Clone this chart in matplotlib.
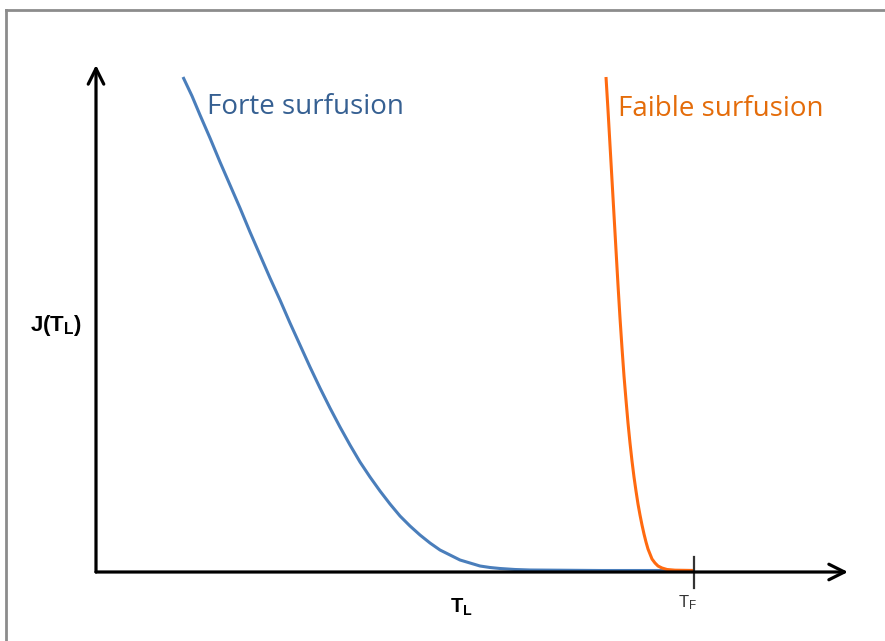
import matplotlib.pyplot as plt
from matplotlib.lines import Line2D

plt.rcParams["mathtext.fontset"] = "custom"
plt.rcParams["mathtext.rm"] = "Liberation Sans"
plt.rcParams["mathtext.bf"] = "Liberation Sans:bold"

# Curves (x = temperature, y = nucleation rate, arbitrary units)
forte_x = [87, 96, 104, 114, 124, 134, 144, 154, 164, 174, 184, 194, 204, 214, 224, 234,
           244, 254, 264, 274, 284, 294, 304, 314, 324, 334, 344, 354, 364, 374, 384, 394,
           404, 419, 434, 504, 598]
forte_y = [495, 476, 457, 434, 410, 387, 364, 340, 317, 294, 272, 249, 227, 205, 184, 164,
           145, 127, 110, 95, 81, 68, 56, 46, 37, 29, 22, 17, 12, 9, 6, 4.5,
           3.5, 2.5, 2, 1.5, 1.5]

faible_x = [510, 512, 514, 516, 518, 520, 522, 524, 526, 528, 530, 532, 534, 536, 538, 540,
            542, 544, 546, 548, 550, 552, 554, 556, 559, 562, 566, 571, 579, 598]
faible_y = [495, 462, 427, 392, 357, 322, 287, 254, 224, 196, 172, 149, 129, 111, 95, 81,
            68, 57, 47, 38, 30, 23, 18, 13, 9, 6, 4, 2.5, 1.8, 1.5]

T_F = 598
x_max = 752
y_max = 507

fig = plt.figure(figsize=(8.85, 6.41), dpi=100)

# grey frame at top and left
fig.add_artist(Line2D([6 / 885, 1], [1 - 10 / 641, 1 - 10 / 641], color="#8c8c8c", lw=2.0,
                      transform=fig.transFigure))
fig.add_artist(Line2D([6 / 885, 6 / 885], [0, 1 - 10 / 641], color="#8c8c8c", lw=2.0,
                      transform=fig.transFigure))

ax = fig.add_axes([96 / 885, 69 / 641, 752 / 885, 507 / 641])
ax.set_xlim(0, x_max)
ax.set_ylim(0, y_max)
ax.axis("off")

# axes with arrows
arrow = dict(arrowstyle="->", lw=2.3, color="black", mutation_scale=28, shrinkA=0, shrinkB=0)
ax.annotate("", xy=(x_max, 0), xytext=(0, 0), arrowprops=arrow, annotation_clip=False)
ax.annotate("", xy=(0, y_max), xytext=(0, 0), arrowprops=arrow, annotation_clip=False)

ax.plot(forte_x, forte_y, color="#4a7ebb", lw=2.2, clip_on=False, solid_capstyle="butt",
        solid_joinstyle="round")
ax.plot(faible_x, faible_y, color="#ff6a10", lw=2.2, clip_on=False, solid_capstyle="butt",
        solid_joinstyle="round")

# T_F tick
ax.plot([T_F, T_F], [-16, 15], color="#333333", lw=1.6, clip_on=False)

ax.text(111, 465, "Forte surfusion", color="#366092", fontsize=20, family="Open Sans",
        va="center", ha="left")
ax.text(522, 463, "Faible surfusion", color="#e46c0a", fontsize=20, family="Open Sans",
        va="center", ha="left")

ax.text(-40, 247, r"$\mathbf{J(T_L)}$", fontsize=16, ha="center", va="center")
ax.text(365, -35, r"$\mathbf{T_L}$", fontsize=14.5, ha="center", va="center")
ax.text(591, -31, r"$\mathrm{T_F}$", fontsize=12, color="#333333", ha="center", va="center")

fig.savefig("out.png", dpi=100)
